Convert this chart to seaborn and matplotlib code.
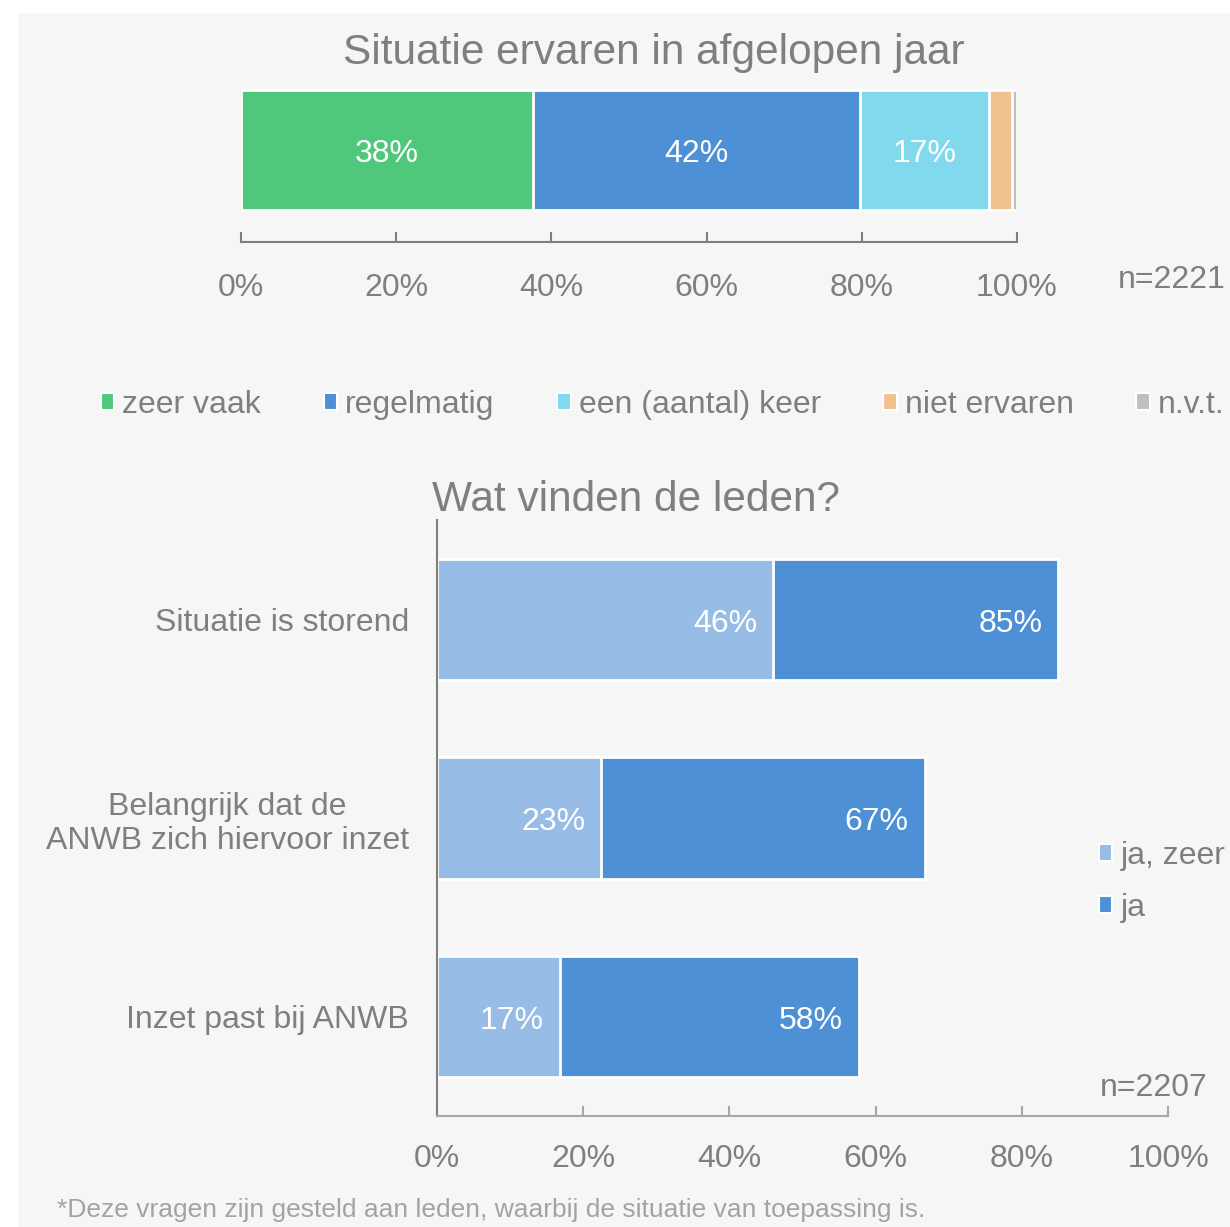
import numpy as np
import pandas as pd
import seaborn as sns
import matplotlib.pyplot as plt
from matplotlib.patches import Patch, Rectangle

# data: bovenste grafiek
cats_top = ["zeer vaak", "regelmatig", "een (aantal) keer", "niet ervaren", "n.v.t."]
vals_top = [37.6, 42.2, 16.6, 3.0, 0.6]
labels_top = ["38%", "42%", "17%", "", ""]
colors_top = ["#50c87c", "#4d90d6", "#80d9ed", "#f0c290", "#bfbfbf"]

# data: onderste grafiek
questions = ["Situatie is storend", "Belangrijk dat de\nANWB zich hiervoor inzet", "Inzet past bij ANWB"]
ja_zeer = [46, 22.5, 16.8]
ja_totaal = [85, 66.7, 57.7]
ja_zeer_lbl = ["46%", "23%", "17%"]
ja_totaal_lbl = ["85%", "67%", "58%"]
col_light = "#97bce6"
col_dark = "#4d90d6"

grey = "#7f7f7f"
bg = "#f6f6f6"

sns.set_theme(style="white")
plt.rcParams['font.family'] = ['Liberation Sans', 'DejaVu Sans']

fig = plt.figure(figsize=(12.3, 12.27), dpi=100, facecolor="white")
fig.patches.append(Rectangle((18 / 1230, 0), 1, 1 - 13 / 1227, transform=fig.transFigure,
                             facecolor=bg, edgecolor="none", zorder=-10))

# ---- bovenste grafiek: gestapelde balk ----
ax1 = fig.add_axes([241 / 1230, 1 - 242 / 1227, 776 / 1230, 182 / 1227])
ax1.set_facecolor("none")
cum = np.cumsum(vals_top)
# van groot naar klein tekenen zodat segmenten over elkaar liggen
for i in range(len(cats_top) - 1, -1, -1):
    d = pd.DataFrame({"v": [cum[i]], "c": ["x"]})
    sns.barplot(data=d, x="v", y="c", ax=ax1, color=colors_top[i], width=1.0,
                edgecolor="white", linewidth=2, saturation=1, orient="h")
starts = np.concatenate([[0], cum[:-1]])
for s, v, l in zip(starts, vals_top, labels_top):
    if l:
        ax1.annotate(l, (s + v / 2, 0), xytext=(0, -3), textcoords="offset points",
                     color="white", fontsize=23, ha="center", va="center")
ax1.set_xlim(0, 100)
ax1.set_ylim(0.767, -0.75)
ax1.set_xticks(np.arange(0, 101, 20))
ax1.set_xticklabels([f"{t}%" for t in range(0, 101, 20)])
ax1.set_yticks([])
ax1.set_xlabel("")
ax1.set_ylabel("")
for sp in ["top", "right", "left"]:
    ax1.spines[sp].set_visible(False)
ax1.spines["bottom"].set_color(grey)
ax1.spines["bottom"].set_linewidth(1.5)
ax1.tick_params(axis="x", direction="in", length=7, width=1.5, color=grey,
                labelcolor=grey, labelsize=23, pad=22, bottom=True)
ax1.text(1.13, -0.21, "n=2221", transform=ax1.transAxes, fontsize=23, color=grey, ha="left", va="center")

fig.text(654 / 1230, 1 - 53 / 1227, "Situatie ervaren in afgelopen jaar", fontsize=30.5,
         color=grey, ha="center", va="center")

handles = [Patch(facecolor=c, edgecolor="white", linewidth=1.5) for c in colors_top]
fig.legend(handles, cats_top, loc="center left", bbox_to_anchor=(101 / 1230, 1 - 405 / 1227),
           ncol=5, frameon=False, fontsize=23, labelcolor=grey, handlelength=0.42,
           handleheight=0.42, handletextpad=0.25, columnspacing=1.96, borderaxespad=0,
           borderpad=0)

# ---- onderste grafiek ----
ax2 = fig.add_axes([437 / 1230, 1 - 1116 / 1227, 731 / 1230, 596 / 1227])
ax2.set_facecolor("none")
df2 = pd.DataFrame({"vraag": questions, "ja_zeer": ja_zeer, "ja": ja_totaal})
sns.barplot(data=df2, x="ja", y="vraag", ax=ax2, color=col_dark, width=0.61,
            edgecolor="white", linewidth=2, saturation=1, orient="h")
sns.barplot(data=df2, x="ja_zeer", y="vraag", ax=ax2, color=col_light, width=0.61,
            edgecolor="white", linewidth=2, saturation=1, orient="h")
for i in range(len(questions)):
    ax2.annotate(ja_zeer_lbl[i], (ja_zeer[i] - 2.2, i), xytext=(0, -3), textcoords="offset points",
                 color="white", fontsize=23, ha="right", va="center")
    ax2.annotate(ja_totaal_lbl[i], (ja_totaal[i] - 2.2, i), xytext=(0, -3), textcoords="offset points",
                 color="white", fontsize=23, ha="right", va="center")
ax2.set_xlim(0, 100)
ax2.set_ylim(2.5, -0.5)
ax2.set_xticks(np.arange(0, 101, 20))
ax2.set_xticklabels([f"{t}%" for t in range(0, 101, 20)])
ax2.set_xlabel("")
ax2.set_ylabel("")
for sp in ["top", "right"]:
    ax2.spines[sp].set_visible(False)
ax2.spines["left"].set_color(grey)
ax2.spines["left"].set_linewidth(1.5)
ax2.spines["bottom"].set_color("#a6a6a6")
ax2.spines["bottom"].set_linewidth(1.5)
ax2.tick_params(axis="x", direction="in", length=7, width=1.5, color="#a6a6a6",
                labelcolor=grey, labelsize=23, pad=20, bottom=True)
ax2.tick_params(axis="y", length=0, labelcolor=grey, labelsize=23, pad=20)
for lab in ax2.get_yticklabels():
    lab.set_multialignment("center")
ax2.text(1.054, 0.047, "n=2207", transform=ax2.transAxes, fontsize=23, color=grey, ha="right", va="center")

fig.text(636 / 1230, 1 - 500 / 1227, "Wat vinden de leden?", fontsize=30.5, color=grey,
         ha="center", va="center")

h2 = [Patch(facecolor=col_light, edgecolor="white", linewidth=1.5),
      Patch(facecolor=col_dark, edgecolor="white", linewidth=1.5)]
fig.legend(h2, ["ja, zeer", "ja"], loc="center left", bbox_to_anchor=(1099 / 1230, 1 - 882 / 1227),
           ncol=1, frameon=False, fontsize=23, labelcolor=grey, handlelength=0.42,
           handleheight=0.42, handletextpad=0.25, labelspacing=0.68, borderaxespad=0, borderpad=0)

fig.text(57 / 1230, 1 - 1210 / 1227,
         "*Deze vragen zijn gesteld aan leden, waarbij de situatie van toepassing is.",
         fontsize=19, color="#a3a3a3", ha="left", va="center")

fig.savefig("out.png", dpi=100, facecolor=fig.get_facecolor())
